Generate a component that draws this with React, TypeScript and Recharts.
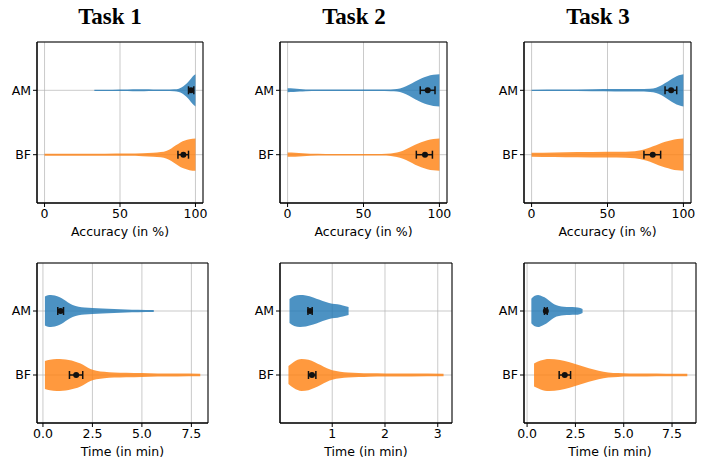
import {
  ComposedChart,
  Area,
  Scatter,
  ErrorBar,
  XAxis,
  YAxis,
  CartesianGrid,
  ReferenceArea,
} from "recharts";

const taskTitles = ["Task 1", "Task 2", "Task 3"];
const groupLabels = ["BF", "AM"]; // y = 0 -> BF, y = 1 -> AM

const accTicks = [0, 50, 100];
const timeTicksWide = [0, 2.5, 5, 7.5];
const timeTicksTask2 = [1, 2, 3];

// accuracy violins: x positions (%) and relative half-width (0..1)
const acc1AmX = [33, 45, 55, 62, 66, 72, 80, 86, 89, 91, 93, 95, 97, 99, 100];
const acc1AmW = [0.04, 0.04, 0.045, 0.06, 0.06, 0.045, 0.045, 0.06, 0.1, 0.19, 0.33, 0.5, 0.72, 0.93, 1.0];
const acc1BfX = [0, 20, 40, 55, 65, 72, 77, 81, 84, 87, 90, 93, 96, 100];
const acc1BfW = [0.06, 0.06, 0.065, 0.07, 0.09, 0.12, 0.16, 0.25, 0.39, 0.58, 0.76, 0.88, 0.96, 1.0];

const acc2AmX = [0, 4, 8, 12, 20, 40, 60, 68, 72, 76, 80, 84, 88, 92, 96, 100];
const acc2AmW = [0.12, 0.11, 0.08, 0.055, 0.045, 0.045, 0.045, 0.055, 0.08, 0.17, 0.34, 0.55, 0.74, 0.88, 0.97, 1.0];
const acc2BfX = [0, 5, 10, 15, 25, 45, 62, 68, 72, 76, 80, 84, 88, 92, 96, 100];
const acc2BfW = [0.13, 0.12, 0.09, 0.06, 0.05, 0.05, 0.05, 0.08, 0.14, 0.25, 0.43, 0.62, 0.78, 0.9, 0.97, 1.0];

const acc3AmX = [0, 20, 40, 55, 70, 78, 82, 85, 88, 91, 94, 97, 100];
const acc3AmW = [0.04, 0.05, 0.065, 0.075, 0.08, 0.1, 0.16, 0.28, 0.45, 0.63, 0.8, 0.93, 1.0];
const acc3BfX = [0, 15, 30, 50, 62, 68, 72, 76, 80, 84, 88, 92, 96, 100];
const acc3BfW = [0.12, 0.14, 0.16, 0.18, 0.19, 0.22, 0.28, 0.38, 0.52, 0.67, 0.8, 0.9, 0.97, 1.0];

// time violins (minutes)
const time1AmX = [0.1, 0.25, 0.4, 0.6, 0.85, 1.05, 1.25, 1.5, 1.8, 2.1, 2.5, 3, 3.6, 4.2, 4.8, 5.6];
const time1AmW = [0.9, 0.98, 1.0, 0.97, 0.86, 0.72, 0.55, 0.38, 0.27, 0.22, 0.18, 0.15, 0.12, 0.1, 0.085, 0.07];
const time1BfX = [0.1, 0.35, 0.7, 1.0, 1.3, 1.6, 1.9, 2.15, 2.4, 2.7, 3.1, 3.6, 4.2, 5, 5.8, 6.8, 7.95];
const time1BfW = [0.88, 0.96, 1.0, 0.98, 0.93, 0.85, 0.72, 0.55, 0.38, 0.27, 0.2, 0.16, 0.14, 0.12, 0.1, 0.09, 0.08];

const time2AmX = [0.19, 0.28, 0.39, 0.5, 0.64, 0.76, 0.88, 1.0, 1.1, 1.2, 1.31];
const time2AmW = [0.75, 0.93, 1.0, 0.97, 0.85, 0.7, 0.56, 0.46, 0.42, 0.35, 0.25];
const time2BfX = [0.17, 0.27, 0.42, 0.55, 0.67, 0.78, 0.9, 1.0, 1.15, 1.3, 1.5, 1.7, 2.0, 2.5, 3.11];
const time2BfW = [0.56, 0.82, 1.0, 0.95, 0.8, 0.62, 0.42, 0.3, 0.21, 0.16, 0.13, 0.11, 0.1, 0.09, 0.08];

const time3AmX = [0.22, 0.4, 0.57, 0.8, 1.0, 1.2, 1.4, 1.65, 1.9, 2.2, 2.5, 2.75, 2.87];
const time3AmW = [0.76, 0.95, 1.0, 0.9, 0.78, 0.6, 0.42, 0.32, 0.27, 0.25, 0.24, 0.18, 0.12];
const time3BfX = [0.36, 0.7, 1.14, 1.7, 2.2, 2.7, 3.2, 3.7, 4.2, 4.7, 5.3, 6.2, 7.2, 8.29];
const time3BfW = [0.72, 0.9, 1.0, 0.94, 0.8, 0.61, 0.42, 0.26, 0.16, 0.12, 0.1, 0.09, 0.085, 0.08];

// mean with 95% CI: [mean, low, high]
const accAmStats = [[97.1, 95.4, 98.9], [92.3, 87.4, 97.1], [91.9, 87.9, 95.6]];
const accBfStats = [[92, 88.4, 95.4], [90.5, 84.8, 95.4], [79.8, 74, 85]];
const timeAmStats = [[0.89, 0.75, 1.04], [0.58, 0.54, 0.62], [0.97, 0.9, 1.04]];
const timeBfStats = [[1.68, 1.34, 2.01], [0.615, 0.55, 0.69], [1.95, 1.66, 2.25]];

const BLUE = "#1f77b4";
const ORANGE = "#ff7f0e";
const HALF = 0.25;
const YDOM: [number, number] = [-0.75, 1.75];
const FONT = "DejaVu Sans, sans-serif";

function band(xs: number[], ws: number[], c: number) {
  return xs.map((x, i) => ({ x, band: [c - ws[i] * HALF, c + ws[i] * HALF] }));
}

function statPoint(s: number[], y: number) {
  return { x: s[0], y, err: [s[0] - s[1], s[2] - s[0]] };
}

type PanelProps = {
  left: number;
  top: number;
  w: number;
  h: number;
  domain: [number, number];
  ticks: number[];
  fmt: (v: number) => string;
  label: string;
  am: [number[], number[]];
  bf: [number[], number[]];
  amStat: number[];
  bfStat: number[];
};

function Panel(p: PanelProps) {
  const pts = [statPoint(p.amStat, 1), statPoint(p.bfStat, 0)];
  return (
    <div style={{ position: "absolute", left: p.left - 40, top: p.top - 10 }}>
      <ComposedChart
        width={p.w + 50}
        height={p.h + 50}
        margin={{ top: 10, right: 10, bottom: 0, left: 0 }}
      >
        <XAxis
          type="number"
          dataKey="x"
          domain={p.domain}
          ticks={p.ticks}
          tickFormatter={p.fmt}
          allowDataOverflow
          height={40}
          tickSize={4}
          tick={{ fill: "#000", fontSize: 12.5, fontFamily: FONT }}
          tickLine={{ stroke: "#000" }}
          axisLine={{ stroke: "#000" }}
          label={{
            value: p.label,
            position: "insideBottom",
            offset: 7,
            fill: "#000",
            fontSize: 12.5,
            fontFamily: FONT,
          }}
        />
        <YAxis
          type="number"
          domain={YDOM}
          ticks={[0, 1]}
          tickFormatter={(v: number) => groupLabels[v]}
          allowDataOverflow
          width={40}
          tickSize={4}
          tick={{ fill: "#000", fontSize: 12.5, fontFamily: FONT }}
          tickLine={{ stroke: "#000" }}
          axisLine={{ stroke: "#000" }}
        />
        <Area
          data={band(p.am[0], p.am[1], 1)}
          dataKey="band"
          type="monotone"
          fill={BLUE}
          fillOpacity={0.8}
          stroke="none"
          isAnimationActive={false}
        />
        <Area
          data={band(p.bf[0], p.bf[1], 0)}
          dataKey="band"
          type="monotone"
          fill={ORANGE}
          fillOpacity={0.8}
          stroke="none"
          isAnimationActive={false}
        />
        <CartesianGrid stroke="#b0b0b0" strokeWidth={0.8} strokeOpacity={0.85} />
        <Scatter
          data={pts}
          dataKey="y"
          fill="#000"
          isAnimationActive={false}
          shape={(s: any) => <circle cx={s.cx} cy={s.cy} r={3} fill="#111" />}
        >
          <ErrorBar dataKey="err" direction="x" width={4} stroke="#111" strokeWidth={1.5} />
        </Scatter>
        <ReferenceArea
          x1={p.domain[0]}
          x2={p.domain[1]}
          y1={YDOM[0]}
          y2={YDOM[1]}
          fill="none"
          stroke="#000"
          ifOverflow="visible"
        />
      </ComposedChart>
    </div>
  );
}

const fmtInt = (v: number) => String(v);
const fmtOne = (v: number) => v.toFixed(1);

export default function App() {
  const titleX = [110, 354, 598];
  return (
    <div
      style={{
        position: "absolute",
        left: 0,
        top: 0,
        width: 702,
        height: 461,
        background: "#fff",
        fontFamily: FONT,
      }}
    >
      {taskTitles.map((t, i) => (
        <div
          key={t}
          style={{
            position: "absolute",
            left: titleX[i] - 100,
            top: 3,
            width: 200,
            lineHeight: "28px",
            textAlign: "center",
            fontFamily: "Liberation Serif, serif",
            fontWeight: "bold",
            fontSize: 23,
          }}
        >
          {t}
        </div>
      ))}
      <Panel left={37} top={42} w={166} h={161} domain={[-5, 105]} ticks={accTicks} fmt={fmtInt}
        label="Accuracy (in %)" am={[acc1AmX, acc1AmW]} bf={[acc1BfX, acc1BfW]}
        amStat={accAmStats[0]} bfStat={accBfStats[0]} />
      <Panel left={280} top={42} w={167} h={161} domain={[-5, 105]} ticks={accTicks} fmt={fmtInt}
        label="Accuracy (in %)" am={[acc2AmX, acc2AmW]} bf={[acc2BfX, acc2BfW]}
        amStat={accAmStats[1]} bfStat={accBfStats[1]} />
      <Panel left={524} top={42} w={167} h={161} domain={[-5, 105]} ticks={accTicks} fmt={fmtInt}
        label="Accuracy (in %)" am={[acc3AmX, acc3AmW]} bf={[acc3BfX, acc3BfW]}
        amStat={accAmStats[2]} bfStat={accBfStats[2]} />
      <Panel left={37} top={263} w={171} h={160} domain={[-0.3, 8.34]} ticks={timeTicksWide} fmt={fmtOne}
        label="Time (in min)" am={[time1AmX, time1AmW]} bf={[time1BfX, time1BfW]}
        amStat={timeAmStats[0]} bfStat={timeBfStats[0]} />
      <Panel left={280} top={263} w={172} h={160} domain={[0.01, 3.27]} ticks={timeTicksTask2} fmt={fmtInt}
        label="Time (in min)" am={[time2AmX, time2AmW]} bf={[time2BfX, time2BfW]}
        amStat={timeAmStats[1]} bfStat={timeBfStats[1]} />
      <Panel left={524} top={263} w={172} h={160} domain={[-0.16, 8.74]} ticks={timeTicksWide} fmt={fmtOne}
        label="Time (in min)" am={[time3AmX, time3AmW]} bf={[time3BfX, time3BfW]}
        amStat={timeAmStats[2]} bfStat={timeBfStats[2]} />
    </div>
  );
}
